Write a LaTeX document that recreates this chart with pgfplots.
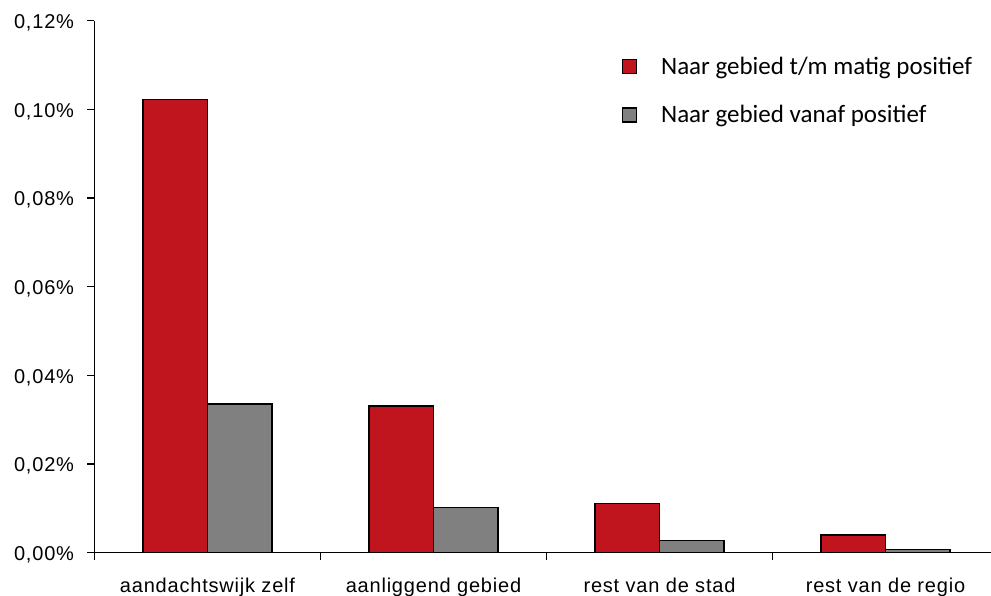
\documentclass[border=0pt]{standalone}
\usepackage{pgfplots}
\pgfplotsset{compat=1.18}
\usepackage{fontspec}
\setmainfont{Liberation Sans}
\newfontfamily\arialsp{Liberation Sans}[LetterSpace=4]
\newfontfamily\calibri{Carlito}
\definecolor{myred}{RGB}{192,20,30}
\definecolor{mygray}{RGB}{128,128,128}
\begin{document}
\begin{tikzpicture}
\begin{axis}[
  width=904pt, height=532pt, scale only axis,
  xmin=-0.5, xmax=3.5, ymin=0, ymax=0.12,
  axis x line=bottom, axis y line=left,
  axis line style={-, line width=1.3pt, black},
  tick align=outside, major tick length=7pt,
  tick style={line width=1.3pt, black},
  xtick={-0.5,0.5,1.5,2.5,3.5},
  x tick label as interval,
  xticklabels={aandachtswijk zelf, aanliggend gebied, rest van de stad, rest van de regio},
  ytick={0,0.02,0.04,0.06,0.08,0.1,0.12},
  yticklabels={{0,00\%},{0,02\%},{0,04\%},{0,06\%},{0,08\%},{0,10\%},{0,12\%}},
  /pgf/number format/assume math mode=true,
  tick label style={font=\arialsp\fontsize{20}{24}\selectfont},
  xticklabel style={anchor=base, yshift=-33pt},
  yticklabel style={anchor=east, xshift=-10pt, yshift=-2pt},
  ybar,
  legend cell align=left,
  legend image code/.code={\draw[#1, line width=1.2pt] (0pt,-7pt) rectangle (14pt,7pt);},
  legend style={draw=none, fill=none, inner sep=0pt,
    at={(0.5832,0.9318)}, anchor=north west,
    row sep=29.5pt,
    nodes={inner sep=0pt, font=\calibri\fontsize{25}{30}\selectfont},
    /tikz/every odd column/.append style={column sep=24pt}},
]
\addplot[fill=myred, draw=black, line width=1.3pt, bar width=64.5pt, bar shift=-32.25pt]
  coordinates {(0,0.1023) (1,0.0331) (2,0.01114) (3,0.0040)};
\addplot[fill=mygray, draw=black, line width=1.3pt, bar width=64.5pt, bar shift=32.25pt]
  coordinates {(0,0.03354) (1,0.01024) (2,0.0028) (3,0.00077)};
\legend{Naar gebied t/m matig positief, Naar gebied vanaf positief}
\coordinate (bl) at (rel axis cs:0,0);
\coordinate (tr) at (rel axis cs:1,1);
\end{axis}
\pgfresetboundingbox
\path ([shift={(-94.5pt,-43.3pt)}]bl) rectangle ([shift={(-7.5pt,20.7pt)}]tr);
\end{tikzpicture}
\end{document}
